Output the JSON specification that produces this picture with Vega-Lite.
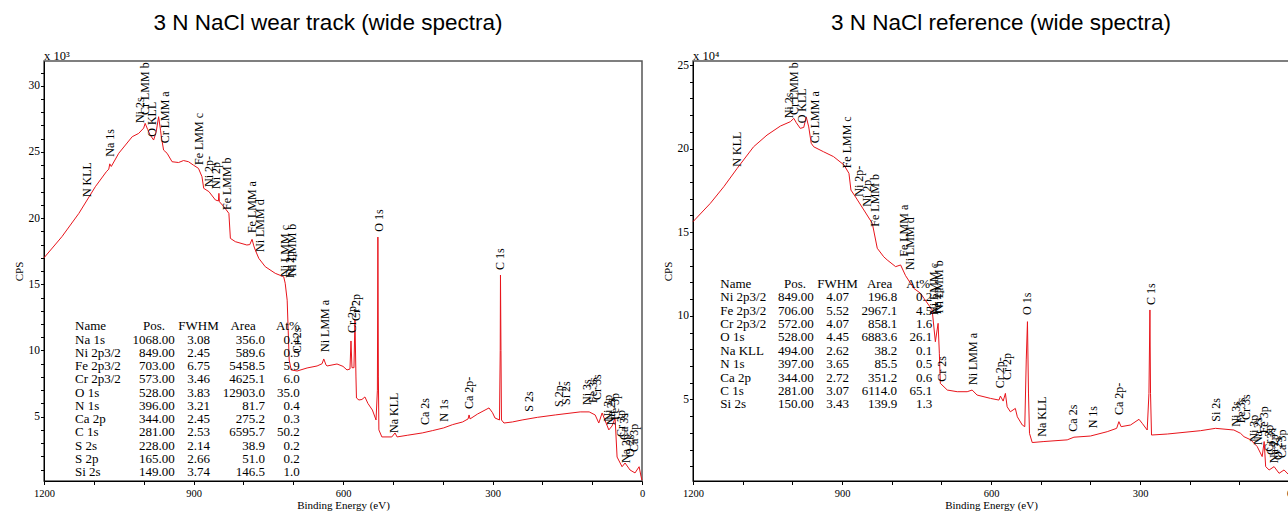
{
  "$schema": "https://vega.github.io/schema/vega-lite/v6.json",
  "autosize": {"type": "pad"},
  "padding": {"left": 12, "top": 10, "right": 0, "bottom": 0},
  "bounds": "flush",
  "spacing": 51,
  "config": {
    "view": {"stroke": "#555", "strokeWidth": 1.5},
    "axis": {"grid": false, "domainColor": "#000", "tickColor": "#000", "labelColor": "#000", "titleColor": "#000", "labelFont": "Liberation Serif", "titleFont": "Liberation Serif", "titleFontWeight": "normal", "tickSize": 4, "labelFlush": false, "labelOverlap": false},
    "axisX": {"labelFontSize": 10.5, "titleFontSize": 11, "labelPadding": 4, "titlePadding": 0, "tickSize": 3.5},
    "axisY": {"labelFontSize": 11.5, "titleFontSize": 11, "labelPadding": 1, "titlePadding": 4},
    "title": {"font": "Liberation Sans", "fontSize": 22.5, "fontWeight": "normal", "color": "#000", "baseline": "alphabetic", "offset": 16},
    "text": {"font": "Liberation Serif", "color": "#000"}
  },
  "datasets": {
    "ws": [
      {"eV": 1200, "cps": 17.0}, {"eV": 1164, "cps": 18.6}, {"eV": 1130, "cps": 20.36}, {"eV": 1097, "cps": 22.37}, {"eV": 1075, "cps": 23.5}, {"eV": 1070, "cps": 23.7}, {"eV": 1068, "cps": 24.1}, {"eV": 1065, "cps": 23.9}, {"eV": 1050, "cps": 24.9}, {"eV": 1023, "cps": 26.15}, {"eV": 1010, "cps": 26.4}, {"eV": 1000, "cps": 26.8}, {"eV": 997, "cps": 27.16}, {"eV": 992, "cps": 26.7}, {"eV": 987, "cps": 26.28}, {"eV": 980, "cps": 25.9}, {"eV": 975, "cps": 26.5}, {"eV": 970, "cps": 27.66}, {"eV": 966, "cps": 26.6}, {"eV": 964.6, "cps": 26.15}, {"eV": 960, "cps": 25.14}, {"eV": 953, "cps": 24.9}, {"eV": 943, "cps": 24.26}, {"eV": 930, "cps": 24.2}, {"eV": 920, "cps": 24.35}, {"eV": 910, "cps": 24.26}, {"eV": 900, "cps": 24.0}, {"eV": 890, "cps": 23.76}, {"eV": 883, "cps": 23.13}, {"eV": 879.5, "cps": 22.25}, {"eV": 869, "cps": 22.0}, {"eV": 856, "cps": 21.37}, {"eV": 850, "cps": 21.3}, {"eV": 849, "cps": 21.87}, {"eV": 848, "cps": 21.24}, {"eV": 839, "cps": 20.86}, {"eV": 829, "cps": 20.36}, {"eV": 826, "cps": 18.47}, {"eV": 816, "cps": 18.22}, {"eV": 793, "cps": 17.97}, {"eV": 787, "cps": 18.0}, {"eV": 782.5, "cps": 18.4}, {"eV": 779, "cps": 17.9}, {"eV": 776, "cps": 17.59}, {"eV": 769, "cps": 16.96}, {"eV": 756, "cps": 16.33}, {"eV": 736, "cps": 15.83}, {"eV": 719, "cps": 15.57}, {"eV": 716, "cps": 15.08}, {"eV": 712, "cps": 13.8}, {"eV": 710, "cps": 11.54}, {"eV": 708, "cps": 9.28}, {"eV": 704, "cps": 8.53}, {"eV": 692, "cps": 8.45}, {"eV": 672, "cps": 8.68}, {"eV": 652, "cps": 8.83}, {"eV": 642, "cps": 9.0}, {"eV": 638.6, "cps": 9.36}, {"eV": 634, "cps": 8.9}, {"eV": 632, "cps": 8.83}, {"eV": 612, "cps": 8.98}, {"eV": 600, "cps": 8.8}, {"eV": 592, "cps": 8.53}, {"eV": 586, "cps": 8.6}, {"eV": 584, "cps": 10.72}, {"eV": 582, "cps": 8.7}, {"eV": 578, "cps": 8.7}, {"eV": 576, "cps": 12.3}, {"eV": 574, "cps": 8.0}, {"eV": 573, "cps": 6.41}, {"eV": 568, "cps": 6.26}, {"eV": 562, "cps": 6.3}, {"eV": 556, "cps": 6.49}, {"eV": 550, "cps": 6.0}, {"eV": 541, "cps": 5.5}, {"eV": 533.7, "cps": 4.75}, {"eV": 531, "cps": 7.0}, {"eV": 530, "cps": 18.57}, {"eV": 529, "cps": 8.0}, {"eV": 528, "cps": 4.0}, {"eV": 522, "cps": 3.47}, {"eV": 502, "cps": 3.47}, {"eV": 495.6, "cps": 3.77}, {"eV": 491.5, "cps": 3.47}, {"eV": 470, "cps": 3.6}, {"eV": 441, "cps": 3.77}, {"eV": 420, "cps": 3.95}, {"eV": 398, "cps": 4.15}, {"eV": 380, "cps": 4.4}, {"eV": 360, "cps": 4.6}, {"eV": 349, "cps": 4.83}, {"eV": 347, "cps": 5.13}, {"eV": 345, "cps": 4.83}, {"eV": 330, "cps": 5.2}, {"eV": 315, "cps": 5.5}, {"eV": 307, "cps": 5.66}, {"eV": 300, "cps": 5.3}, {"eV": 295, "cps": 4.9}, {"eV": 286, "cps": 4.75}, {"eV": 284.5, "cps": 10.0}, {"eV": 284, "cps": 15.7}, {"eV": 283, "cps": 10.0}, {"eV": 282, "cps": 4.75}, {"eV": 277, "cps": 4.52}, {"eV": 260, "cps": 4.6}, {"eV": 240.6, "cps": 4.75}, {"eV": 210, "cps": 4.95}, {"eV": 174, "cps": 5.13}, {"eV": 124, "cps": 5.36}, {"eV": 106, "cps": 5.36}, {"eV": 94, "cps": 5.13}, {"eV": 86.7, "cps": 4.52}, {"eV": 80, "cps": 5.28}, {"eV": 66.6, "cps": 4.0}, {"eV": 60, "cps": 4.3}, {"eV": 54, "cps": 4.9}, {"eV": 50, "cps": 1.95}, {"eV": 40, "cps": 1.22}, {"eV": 34, "cps": 1.5}, {"eV": 24, "cps": 0.97}, {"eV": 14, "cps": 0.75}, {"eV": 5.8, "cps": 1.22}, {"eV": 2, "cps": 0.5}, {"eV": 0, "cps": 0.2}
    ],
    "rs": [
      {"eV": 1200, "cps": 15.63}, {"eV": 1165, "cps": 16.73}, {"eV": 1138, "cps": 17.72}, {"eV": 1111, "cps": 18.82}, {"eV": 1078, "cps": 20.11}, {"eV": 1051, "cps": 20.81}, {"eV": 1024, "cps": 21.35}, {"eV": 1004, "cps": 21.61}, {"eV": 997, "cps": 21.81}, {"eV": 992, "cps": 21.55}, {"eV": 984, "cps": 21.21}, {"eV": 977, "cps": 21.27}, {"eV": 972, "cps": 21.9}, {"eV": 967, "cps": 21.3}, {"eV": 962, "cps": 20.32}, {"eV": 957, "cps": 20.11}, {"eV": 937, "cps": 19.81}, {"eV": 917, "cps": 19.52}, {"eV": 896, "cps": 19.02}, {"eV": 886, "cps": 18.52}, {"eV": 882, "cps": 17.52}, {"eV": 873, "cps": 17.12}, {"eV": 856, "cps": 16.33}, {"eV": 839, "cps": 15.53}, {"eV": 829, "cps": 14.04}, {"eV": 816, "cps": 13.53}, {"eV": 809, "cps": 13.34}, {"eV": 792, "cps": 12.94}, {"eV": 782, "cps": 13.04}, {"eV": 772, "cps": 12.4}, {"eV": 755.4, "cps": 11.64}, {"eV": 742, "cps": 11.35}, {"eV": 735, "cps": 11.05}, {"eV": 718.5, "cps": 10.35}, {"eV": 712, "cps": 8.45}, {"eV": 706.5, "cps": 9.55}, {"eV": 704, "cps": 7.76}, {"eV": 702, "cps": 5.96}, {"eV": 688, "cps": 5.56}, {"eV": 668, "cps": 5.46}, {"eV": 648, "cps": 5.46}, {"eV": 638, "cps": 5.56}, {"eV": 628, "cps": 5.26}, {"eV": 601, "cps": 5.06}, {"eV": 584, "cps": 4.96}, {"eV": 581, "cps": 5.2}, {"eV": 575.5, "cps": 4.9}, {"eV": 571, "cps": 5.36}, {"eV": 567.5, "cps": 4.56}, {"eV": 561, "cps": 4.26}, {"eV": 551, "cps": 4.46}, {"eV": 547, "cps": 3.96}, {"eV": 537, "cps": 3.47}, {"eV": 532, "cps": 3.37}, {"eV": 529, "cps": 7.36}, {"eV": 526.6, "cps": 9.65}, {"eV": 524.5, "cps": 5.38}, {"eV": 522.5, "cps": 2.97}, {"eV": 517, "cps": 2.42}, {"eV": 493.5, "cps": 2.48}, {"eV": 446.6, "cps": 2.58}, {"eV": 433, "cps": 2.74}, {"eV": 399.7, "cps": 2.81}, {"eV": 366, "cps": 3.07}, {"eV": 347, "cps": 3.27}, {"eV": 342.5, "cps": 3.67}, {"eV": 338, "cps": 3.37}, {"eV": 319, "cps": 3.47}, {"eV": 302, "cps": 3.81}, {"eV": 295.5, "cps": 3.57}, {"eV": 285.5, "cps": 3.17}, {"eV": 282, "cps": 5.36}, {"eV": 280, "cps": 10.35}, {"eV": 278.8, "cps": 5.36}, {"eV": 276.8, "cps": 2.87}, {"eV": 245, "cps": 2.93}, {"eV": 178, "cps": 3.13}, {"eV": 148, "cps": 3.27}, {"eV": 111, "cps": 3.17}, {"eV": 97.5, "cps": 2.97}, {"eV": 90.6, "cps": 2.77}, {"eV": 77, "cps": 2.58}, {"eV": 64, "cps": 2.18}, {"eV": 54, "cps": 1.58}, {"eV": 50, "cps": 2.48}, {"eV": 47, "cps": 0.98}, {"eV": 40, "cps": 0.78}, {"eV": 30, "cps": 0.98}, {"eV": 20, "cps": 0.58}, {"eV": 10, "cps": 0.78}, {"eV": 0, "cps": 0.48}
    ],
    "wl": [
      {"eV": 1113.7, "cps": 21.59, "label": "N KLL"}, {"eV": 1067, "cps": 24.64, "label": "Na 1s"}, {"eV": 1008, "cps": 27.18, "label": "Ni 2s"}, {"eV": 996.7, "cps": 27.79, "label": "Cr LMM b"}, {"eV": 983.2, "cps": 26.15, "label": "O KLL"}, {"eV": 956.5, "cps": 25.65, "label": "Cr LMM a"}, {"eV": 888.9, "cps": 24.01, "label": "Fe LMM c"}, {"eV": 868.8, "cps": 22.35, "label": "Ni 2p-"}, {"eV": 854.8, "cps": 22.2, "label": "Ni 2p"}, {"eV": 832.7, "cps": 20.61, "label": "Fe LMM b"}, {"eV": 782.5, "cps": 18.87, "label": "Fe LMM a"}, {"eV": 766.5, "cps": 17.44, "label": "Ni LMM d"}, {"eV": 716.3, "cps": 15.55, "label": "Ni LMM c"}, {"eV": 706.3, "cps": 15.48, "label": "Fe 2p"}, {"eV": 702, "cps": 15.6, "label": "Ni LMM b"}, {"eV": 692, "cps": 9.8, "label": "Cr 2s"}, {"eV": 636, "cps": 9.89, "label": "Ni LMM a"}, {"eV": 581.8, "cps": 11.32, "label": "Cr 2p-"}, {"eV": 573.8, "cps": 12.23, "label": "Cr 2p"}, {"eV": 528.2, "cps": 18.97, "label": "O 1s"}, {"eV": 498.1, "cps": 3.77, "label": "Na KLL"}, {"eV": 434.7, "cps": 4.37, "label": "Ca 2s"}, {"eV": 397.8, "cps": 4.62, "label": "N 1s"}, {"eV": 347.6, "cps": 5.58, "label": "Ca 2p-"}, {"eV": 284.2, "cps": 16.08, "label": "C 1s"}, {"eV": 227.2, "cps": 5.38, "label": "S 2s"}, {"eV": 167, "cps": 5.73, "label": "S 2p-"}, {"eV": 153.3, "cps": 5.88, "label": "Si 2s"}, {"eV": 110.2, "cps": 5.88, "label": "Ni 3s"}, {"eV": 99.1, "cps": 6.03, "label": "Fe 3s"}, {"eV": 90.1, "cps": 6.26, "label": "Cr 3s"}, {"eV": 68, "cps": 4.62, "label": "Ni 3p"}, {"eV": 61.9, "cps": 4.36, "label": "Na 2s"}, {"eV": 53.4, "cps": 4.75, "label": "Fe 3p"}, {"eV": 41.9, "cps": 3.47, "label": "Cr 3p"}, {"eV": 35.9, "cps": 3.24, "label": "Ca 3s"}, {"eV": 31.9, "cps": 1.5, "label": "Na 2p"}, {"eV": 23.9, "cps": 1.96, "label": "O 2s"}, {"eV": 16.9, "cps": 2.33, "label": "Ca 3p"}
    ],
    "rl": [
      {"eV": 1111.3, "cps": 18.92, "label": "N KLL"}, {"eV": 1007.2, "cps": 21.81, "label": "Ni 2s"}, {"eV": 997.1, "cps": 22.01, "label": "Cr LMM b"}, {"eV": 980.4, "cps": 21.51, "label": "O KLL"}, {"eV": 953.6, "cps": 20.32, "label": "Cr LMM a"}, {"eV": 889.8, "cps": 18.82, "label": "Fe LMM c"}, {"eV": 866.2, "cps": 17.12, "label": "Ni 2p-"}, {"eV": 849.5, "cps": 16.52, "label": "Ni 2p"}, {"eV": 832.7, "cps": 15.33, "label": "Fe LMM b"}, {"eV": 775.6, "cps": 13.53, "label": "Fe LMM a"}, {"eV": 762.2, "cps": 12.74, "label": "Ni LMM d"}, {"eV": 715.1, "cps": 10.05, "label": "Ni LMM c"}, {"eV": 709, "cps": 10.1, "label": "Fe 2p"}, {"eV": 705, "cps": 10.17, "label": "Ni LMM b"}, {"eV": 698.4, "cps": 6.06, "label": "Cr 2s"}, {"eV": 636, "cps": 5.86, "label": "Ni LMM a"}, {"eV": 581, "cps": 5.66, "label": "Cr 2p-"}, {"eV": 567.5, "cps": 6.16, "label": "Cr 2p"}, {"eV": 527.2, "cps": 10.05, "label": "O 1s"}, {"eV": 497, "cps": 2.77, "label": "Na KLL"}, {"eV": 434.5, "cps": 3.07, "label": "Ca 2s"}, {"eV": 394.2, "cps": 3.27, "label": "N 1s"}, {"eV": 342.5, "cps": 4.07, "label": "Ca 2p-"}, {"eV": 278.8, "cps": 10.65, "label": "C 1s"}, {"eV": 147.9, "cps": 3.67, "label": "Si 2s"}, {"eV": 107.6, "cps": 3.37, "label": "Ni 3s"}, {"eV": 97.5, "cps": 3.57, "label": "Fe 3s"}, {"eV": 87.4, "cps": 3.77, "label": "Cr 3s"}, {"eV": 70.5, "cps": 2.47, "label": "Ni 3p"}, {"eV": 61.8, "cps": 2.27, "label": "Na 2s"}, {"eV": 50.4, "cps": 2.97, "label": "Fe 3p"}, {"eV": 40.3, "cps": 1.87, "label": "Cr 3p"}, {"eV": 35.7, "cps": 1.68, "label": "Ca 3s"}, {"eV": 30.2, "cps": 1.18, "label": "Na 2p"}, {"eV": 21.6, "cps": 1.38, "label": "O 2s"}, {"eV": 13.5, "cps": 1.5, "label": "Ca 3p"}
    ],
    "wt": [
      {"Name": "Na 1s", "Pos": "1068.00", "FWHM": "3.08", "Area": "356.0", "At": "0.4"},
      {"Name": "Ni 2p3/2", "Pos": "849.00", "FWHM": "2.45", "Area": "589.6", "At": "0.5"},
      {"Name": "Fe 2p3/2", "Pos": "703.00", "FWHM": "6.75", "Area": "5458.5", "At": "5.9"},
      {"Name": "Cr 2p3/2", "Pos": "573.00", "FWHM": "3.46", "Area": "4625.1", "At": "6.0"},
      {"Name": "O 1s", "Pos": "528.00", "FWHM": "3.83", "Area": "12903.0", "At": "35.0"},
      {"Name": "N 1s", "Pos": "396.00", "FWHM": "3.21", "Area": "81.7", "At": "0.4"},
      {"Name": "Ca 2p", "Pos": "344.00", "FWHM": "2.45", "Area": "275.2", "At": "0.3"},
      {"Name": "C 1s", "Pos": "281.00", "FWHM": "2.53", "Area": "6595.7", "At": "50.2"},
      {"Name": "S 2s", "Pos": "228.00", "FWHM": "2.14", "Area": "38.9", "At": "0.2"},
      {"Name": "S 2p", "Pos": "165.00", "FWHM": "2.66", "Area": "51.0", "At": "0.2"},
      {"Name": "Si 2s", "Pos": "149.00", "FWHM": "3.74", "Area": "146.5", "At": "1.0"}
    ],
    "rt": [
      {"Name": "Ni 2p3/2", "Pos": "849.00", "FWHM": "4.07", "Area": "196.8", "At": "0.2"},
      {"Name": "Fe 2p3/2", "Pos": "706.00", "FWHM": "5.52", "Area": "2967.1", "At": "4.5"},
      {"Name": "Cr 2p3/2", "Pos": "572.00", "FWHM": "4.07", "Area": "858.1", "At": "1.6"},
      {"Name": "O 1s", "Pos": "528.00", "FWHM": "4.45", "Area": "6883.6", "At": "26.1"},
      {"Name": "Na KLL", "Pos": "494.00", "FWHM": "2.62", "Area": "38.2", "At": "0.1"},
      {"Name": "N 1s", "Pos": "397.00", "FWHM": "3.65", "Area": "85.5", "At": "0.5"},
      {"Name": "Ca 2p", "Pos": "344.00", "FWHM": "2.72", "Area": "351.2", "At": "0.6"},
      {"Name": "C 1s", "Pos": "281.00", "FWHM": "3.07", "Area": "6114.0", "At": "65.1"},
      {"Name": "Si 2s", "Pos": "150.00", "FWHM": "3.43", "Area": "139.9", "At": "1.3"}
    ]
  },
  "hconcat": [
    {
      "title": {"text": "3 N NaCl wear track (wide spectra)", "dx": -15},
      "width": 598,
      "height": 420,
      "resolve": {"scale": {"y": "independent"}},
      "layer": [
        {
          "layer": [
            {
              "data": {"name": "ws"},
              "mark": {"type": "line", "color": "#e8141b", "strokeWidth": 1},
              "encoding": {
                "x": {"field": "eV", "type": "quantitative", "title": "Binding Energy (eV)", "scale": {"domain": [0, 1200], "reverse": true, "nice": false, "zero": false}, "axis": {"values": [0, 100, 200, 300, 400, 500, 600, 700, 800, 900, 1000, 1100, 1200], "tickCount": 50, "labelExpr": "datum.value % 300 === 0 ? '' + datum.value : ''", "labelOverlap": false, "labelFlush": false}},
                "y": {"field": "cps", "type": "quantitative", "title": "CPS", "scale": {"domain": [0.14, 31.87], "nice": false, "zero": false}, "axis": {"values": [1,2,3,4,5,6,7,8,9,10,11,12,13,14,15,16,17,18,19,20,21,22,23,24,25,26,27,28,29,30,31], "tickCount": 50, "labelExpr": "datum.value % 5 === 0 ? '' + datum.value : ''", "labelOverlap": false, "labelFlush": false, "tickSize": 3.5}}
              }
            },
            {
              "data": {"name": "wl"},
              "mark": {"type": "text", "angle": 270, "align": "left", "baseline": "middle", "fontSize": 12},
              "encoding": {
                "x": {"field": "eV", "type": "quantitative", "title": "Binding Energy (eV)"},
                "y": {"field": "cps", "type": "quantitative", "title": "CPS"},
                "text": {"field": "label"}
              }
            },
            {
              "data": {"values": [{}]},
              "mark": {"type": "text", "text": "x 10³", "align": "left", "baseline": "alphabetic", "fontSize": 12.5, "dy": -1},
              "encoding": {
                "x": {"datum": 1200, "type": "quantitative", "title": "Binding Energy (eV)"},
                "y": {"datum": 31.87, "type": "quantitative", "title": "CPS"}
              }
            }
          ]
        },
        {
          "layer": [
            {"data": {"values": [{}]}, "mark": {"type": "text", "text": "Name", "align": "left", "baseline": "alphabetic", "fontSize": 13},
             "encoding": {"x": {"datum": 1137.8, "type": "quantitative", "title": "Binding Energy (eV)"}, "y": {"datum": "hdr", "type": "nominal", "scale": {"type": "point", "domain": ["hdr", "Na 1s", "Ni 2p3/2", "Fe 2p3/2", "Cr 2p3/2", "O 1s", "N 1s", "Ca 2p", "C 1s", "S 2s", "S 2p", "Si 2s"], "range": [269.3, 415.3], "padding": 0}, "axis": null}}},
            {"data": {"values": [{}]}, "mark": {"type": "text", "text": "Pos.", "align": "center", "baseline": "alphabetic", "fontSize": 13},
             "encoding": {"x": {"datum": 979.2, "type": "quantitative", "title": "Binding Energy (eV)"}, "y": {"datum": "hdr", "type": "nominal", "axis": null}}},
            {"data": {"values": [{}]}, "mark": {"type": "text", "text": "FWHM", "align": "center", "baseline": "alphabetic", "fontSize": 13},
             "encoding": {"x": {"datum": 889.9, "type": "quantitative", "title": "Binding Energy (eV)"}, "y": {"datum": "hdr", "type": "nominal", "axis": null}}},
            {"data": {"values": [{}]}, "mark": {"type": "text", "text": "Area", "align": "center", "baseline": "alphabetic", "fontSize": 13},
             "encoding": {"x": {"datum": 800.6, "type": "quantitative", "title": "Binding Energy (eV)"}, "y": {"datum": "hdr", "type": "nominal", "axis": null}}},
            {"data": {"values": [{}]}, "mark": {"type": "text", "text": "At%", "align": "right", "baseline": "alphabetic", "fontSize": 13},
             "encoding": {"x": {"datum": 686.8, "type": "quantitative", "title": "Binding Energy (eV)"}, "y": {"datum": "hdr", "type": "nominal", "axis": null}}},
            {"data": {"name": "wt"}, "mark": {"type": "text", "align": "left", "baseline": "alphabetic", "fontSize": 13},
             "encoding": {"x": {"datum": 1137.8, "type": "quantitative", "title": "Binding Energy (eV)"}, "y": {"field": "Name", "type": "nominal", "axis": null}, "text": {"field": "Name"}}},
            {"data": {"name": "wt"}, "mark": {"type": "text", "align": "right", "baseline": "alphabetic", "fontSize": 13},
             "encoding": {"x": {"datum": 937.7, "type": "quantitative", "title": "Binding Energy (eV)"}, "y": {"field": "Name", "type": "nominal", "axis": null}, "text": {"field": "Pos"}}},
            {"data": {"name": "wt"}, "mark": {"type": "text", "align": "center", "baseline": "alphabetic", "fontSize": 13},
             "encoding": {"x": {"datum": 889.9, "type": "quantitative", "title": "Binding Energy (eV)"}, "y": {"field": "Name", "type": "nominal", "axis": null}, "text": {"field": "FWHM"}}},
            {"data": {"name": "wt"}, "mark": {"type": "text", "align": "right", "baseline": "alphabetic", "fontSize": 13},
             "encoding": {"x": {"datum": 756.4, "type": "quantitative", "title": "Binding Energy (eV)"}, "y": {"field": "Name", "type": "nominal", "axis": null}, "text": {"field": "Area"}}},
            {"data": {"name": "wt"}, "mark": {"type": "text", "align": "right", "baseline": "alphabetic", "fontSize": 13},
             "encoding": {"x": {"datum": 686.8, "type": "quantitative", "title": "Binding Energy (eV)"}, "y": {"field": "Name", "type": "nominal", "axis": null}, "text": {"field": "At"}}}
          ]
        }
      ]
    },
    {
      "title": {"text": "3 N NaCl reference (wide spectra)", "dx": 10},
      "width": 596,
      "height": 420,
      "resolve": {"scale": {"y": "independent"}},
      "layer": [
        {
          "layer": [
            {
              "data": {"name": "rs"},
              "mark": {"type": "line", "color": "#e8141b", "strokeWidth": 1},
              "encoding": {
                "x": {"field": "eV", "type": "quantitative", "title": "Binding Energy (eV)", "scale": {"domain": [0, 1200], "reverse": true, "nice": false, "zero": false}, "axis": {"values": [0, 100, 200, 300, 400, 500, 600, 700, 800, 900, 1000, 1100, 1200], "tickCount": 50, "labelExpr": "datum.value % 300 === 0 ? '' + datum.value : ''", "labelOverlap": false, "labelFlush": false}},
                "y": {"field": "cps", "type": "quantitative", "title": "CPS", "scale": {"domain": [0.12, 25.24], "nice": false, "zero": false}, "axis": {"values": [1,2,3,4,5,6,7,8,9,10,11,12,13,14,15,16,17,18,19,20,21,22,23,24,25], "tickCount": 50, "labelExpr": "datum.value % 5 === 0 ? '' + datum.value : ''", "labelOverlap": false, "labelFlush": false, "tickSize": 3.5}}
              }
            },
            {
              "data": {"name": "rl"},
              "mark": {"type": "text", "angle": 270, "align": "left", "baseline": "middle", "fontSize": 12},
              "encoding": {
                "x": {"field": "eV", "type": "quantitative", "title": "Binding Energy (eV)"},
                "y": {"field": "cps", "type": "quantitative", "title": "CPS"},
                "text": {"field": "label"}
              }
            },
            {
              "data": {"values": [{}]},
              "mark": {"type": "text", "text": "x 10⁴", "align": "left", "baseline": "alphabetic", "fontSize": 12.5, "dy": -1},
              "encoding": {
                "x": {"datum": 1200, "type": "quantitative", "title": "Binding Energy (eV)"},
                "y": {"datum": 25.24, "type": "quantitative", "title": "CPS"}
              }
            }
          ]
        },
        {
          "layer": [
            {"data": {"values": [{}]}, "mark": {"type": "text", "text": "Name", "align": "left", "baseline": "alphabetic", "fontSize": 13},
             "encoding": {"x": {"datum": 1145.0, "type": "quantitative", "title": "Binding Energy (eV)"}, "y": {"datum": "hdr", "type": "nominal", "scale": {"type": "point", "domain": ["hdr", "Ni 2p3/2", "Fe 2p3/2", "Cr 2p3/2", "O 1s", "Na KLL", "N 1s", "Ca 2p", "C 1s", "Si 2s"], "range": [226.7, 347.3], "padding": 0}, "axis": null}}},
            {"data": {"values": [{}]}, "mark": {"type": "text", "text": "Pos.", "align": "center", "baseline": "alphabetic", "fontSize": 13},
             "encoding": {"x": {"datum": 994.5, "type": "quantitative", "title": "Binding Energy (eV)"}, "y": {"datum": "hdr", "type": "nominal", "axis": null}}},
            {"data": {"values": [{}]}, "mark": {"type": "text", "text": "FWHM", "align": "center", "baseline": "alphabetic", "fontSize": 13},
             "encoding": {"x": {"datum": 908.9, "type": "quantitative", "title": "Binding Energy (eV)"}, "y": {"datum": "hdr", "type": "nominal", "axis": null}}},
            {"data": {"values": [{}]}, "mark": {"type": "text", "text": "Area", "align": "center", "baseline": "alphabetic", "fontSize": 13},
             "encoding": {"x": {"datum": 824.3, "type": "quantitative", "title": "Binding Energy (eV)"}, "y": {"datum": "hdr", "type": "nominal", "axis": null}}},
            {"data": {"values": [{}]}, "mark": {"type": "text", "text": "At%", "align": "right", "baseline": "alphabetic", "fontSize": 13},
             "encoding": {"x": {"datum": 722.5, "type": "quantitative", "title": "Binding Energy (eV)"}, "y": {"datum": "hdr", "type": "nominal", "axis": null}}},
            {"data": {"name": "rt"}, "mark": {"type": "text", "align": "left", "baseline": "alphabetic", "fontSize": 13},
             "encoding": {"x": {"datum": 1145.0, "type": "quantitative", "title": "Binding Energy (eV)"}, "y": {"field": "Name", "type": "nominal", "axis": null}, "text": {"field": "Name"}}},
            {"data": {"name": "rt"}, "mark": {"type": "text", "align": "right", "baseline": "alphabetic", "fontSize": 13},
             "encoding": {"x": {"datum": 956.8, "type": "quantitative", "title": "Binding Energy (eV)"}, "y": {"field": "Name", "type": "nominal", "axis": null}, "text": {"field": "Pos"}}},
            {"data": {"name": "rt"}, "mark": {"type": "text", "align": "center", "baseline": "alphabetic", "fontSize": 13},
             "encoding": {"x": {"datum": 908.9, "type": "quantitative", "title": "Binding Energy (eV)"}, "y": {"field": "Name", "type": "nominal", "axis": null}, "text": {"field": "FWHM"}}},
            {"data": {"name": "rt"}, "mark": {"type": "text", "align": "right", "baseline": "alphabetic", "fontSize": 13},
             "encoding": {"x": {"datum": 789.0, "type": "quantitative", "title": "Binding Energy (eV)"}, "y": {"field": "Name", "type": "nominal", "axis": null}, "text": {"field": "Area"}}},
            {"data": {"name": "rt"}, "mark": {"type": "text", "align": "right", "baseline": "alphabetic", "fontSize": 13},
             "encoding": {"x": {"datum": 718.5, "type": "quantitative", "title": "Binding Energy (eV)"}, "y": {"field": "Name", "type": "nominal", "axis": null}, "text": {"field": "At"}}}
          ]
        }
      ]
    }
  ]
}
